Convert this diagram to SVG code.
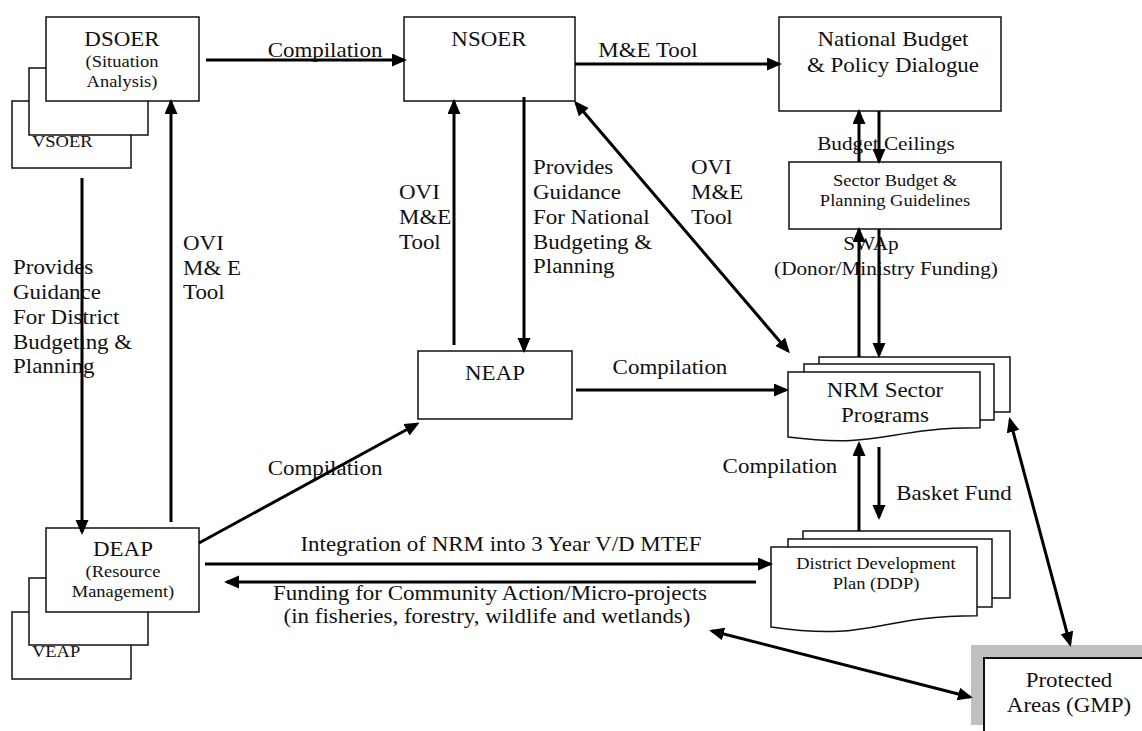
<svg xmlns="http://www.w3.org/2000/svg" width="1142" height="731" viewBox="0 0 1142 731">
  <style>
    .box { fill: #fff; stroke: #111; stroke-width: 1.5; }
    .t { font-family: "Liberation Serif", "Times New Roman", serif; fill: #111; transform-box: fill-box; transform: scaleX(1.12); }
    .c { text-anchor: middle; transform-origin: 50% 50%; }
    .l { text-anchor: start; transform-origin: 0% 50%; }
    .big { font-size: 20.5px; }
    .mid { font-size: 19px; }
    .sm { font-size: 16.5px; }
    .conn line { stroke: #000; stroke-width: 3; fill: none; }
    .one { marker-end: url(#head); }
    .two { marker-start: url(#head); marker-end: url(#head); }
  </style>
  <defs>
    <marker id="head" markerUnits="userSpaceOnUse" markerWidth="16" markerHeight="14" refX="12" refY="6.5" orient="auto-start-reverse">
      <path d="M0,0 L15,6.5 L0,13 Z" fill="#000"/>
    </marker>
    <clipPath id="nrmClip">
      <rect x="788" y="372" width="192" height="51"/>
    </clipPath>
  </defs>
  <rect width="1142" height="731" fill="#fff"/>

  <!-- District / village state of environment reports -->
  <g id="dsoer">
    <rect class="box" x="12" y="101" width="119" height="67"/>
    <text class="t l sm" x="32" y="147">VSOER</text>
    <rect class="box" x="29" y="68" width="119" height="67"/>
    <rect class="box" x="46" y="17" width="153" height="84"/>
    <text class="t c big" x="122" y="46">DSOER</text>
    <text class="t c sm" x="122" y="67">(Situation</text>
    <text class="t c sm" x="122" y="87">Analysis)</text>
  </g>

  <!-- District / village environment action plans -->
  <g id="deap">
    <rect class="box" x="12" y="612" width="119" height="67"/>
    <text class="t l sm" x="32" y="657">VEAP</text>
    <rect class="box" x="29" y="578" width="119" height="67"/>
    <rect class="box" x="46" y="528" width="153" height="84"/>
    <text class="t c big" x="123" y="556">DEAP</text>
    <text class="t c sm" x="123" y="577">(Resource</text>
    <text class="t c sm" x="123" y="597">Management)</text>
  </g>

  <g id="nsoer">
    <rect class="box" x="404" y="17" width="171" height="84"/>
    <text class="t c big" x="489" y="46">NSOER</text>
  </g>

  <g id="budget">
    <rect class="box" x="779" y="17" width="222" height="94"/>
    <text class="t c big" x="893" y="46">National Budget</text>
    <text class="t c big" x="893" y="72">&amp; Policy Dialogue</text>
  </g>

  <g id="guidelines">
    <rect class="box" x="789" y="162" width="212" height="67"/>
    <text class="t c sm" x="895" y="186">Sector Budget &amp;</text>
    <text class="t c sm" x="895" y="206">Planning Guidelines</text>
  </g>

  <g id="neap">
    <rect class="box" x="418" y="351" width="154" height="68"/>
    <text class="t c big" x="495" y="380">NEAP</text>
  </g>

  <!-- stacked document shape -->
  <g id="nrm">
    <rect class="box" x="819" y="357" width="191" height="55"/>
    <rect class="box" x="804" y="364" width="190" height="56"/>
    <path class="box" d="M788,372 H980 V427.8 C884,427.8 884,449 788,437 Z"/>
    <g clip-path="url(#nrmClip)">
      <text class="t c big" x="885" y="397">NRM Sector</text>
      <text class="t c big" x="885" y="422">Programs</text>
    </g>
  </g>

  <g id="ddp">
    <rect class="box" x="803" y="531" width="207" height="67"/>
    <rect class="box" x="788" y="539" width="204" height="68"/>
    <path class="box" d="M771,547 H977 V615.7 C874,615.7 874,641.9 771,627 Z"/>
    <text class="t c sm" x="876" y="569">District Development</text>
    <text class="t c sm" x="876" y="589">Plan (DDP)</text>
  </g>

  <g id="protected">
    <rect x="971" y="645" width="171" height="80" fill="#c0c0c0"/>
    <rect x="984" y="658" width="170" height="90" fill="#fff" stroke="#111" stroke-width="2"/>
    <text class="t c big" x="1069" y="687">Protected</text>
    <text class="t c big" x="1069" y="712">Areas (GMP)</text>
  </g>

  <!-- connector labels -->
  <g id="labels">
    <text class="t c big" x="325" y="57">Compilation</text>
    <text class="t c big" x="648" y="57">M&amp;E Tool</text>
    <text class="t c mid" x="886" y="150">Budget Ceilings</text>
    <text class="t c mid" x="871" y="250">SWAp</text>
    <text class="t c mid" x="886" y="275">(Donor/Ministry Funding)</text>
    <text class="t l big" x="691" y="174">OVI<tspan x="691" y="199">M&amp;E</tspan><tspan x="691" y="224">Tool</tspan></text>
    <text class="t l big" x="533" y="174">Provides<tspan x="533" y="199">Guidance</tspan><tspan x="533" y="224">For National</tspan><tspan x="533" y="249">Budgeting &amp;</tspan><tspan x="533" y="273">Planning</tspan></text>
    <text class="t l big" x="399" y="199">OVI<tspan x="399" y="224">M&amp;E</tspan><tspan x="399" y="249">Tool</tspan></text>
    <text class="t l big" x="183" y="250">OVI<tspan x="183" y="275">M&amp; E</tspan><tspan x="183" y="299">Tool</tspan></text>
    <text class="t l big" x="13" y="274">Provides<tspan x="13" y="299">Guidance</tspan><tspan x="13" y="324">For District</tspan><tspan x="13" y="349">Budgeting &amp;</tspan><tspan x="13" y="373">Planning</tspan></text>
    <text class="t c big" x="670" y="374">Compilation</text>
    <text class="t c big" x="325" y="475">Compilation</text>
    <text class="t c big" x="780" y="473">Compilation</text>
    <text class="t c big" x="954" y="500">Basket Fund</text>
    <text class="t c big" x="501" y="551">Integration of NRM into 3 Year V/D MTEF</text>
    <text class="t c big" x="490" y="600">Funding for Community Action/Micro-projects</text>
    <text class="t c big" x="487" y="623">(in fisheries, forestry, wildlife and wetlands)</text>
  </g>

  <g id="connectors" class="conn">
    <line class="one" x1="206" y1="60" x2="404" y2="60"/>
    <line class="one" x1="575" y1="64" x2="779" y2="64"/>
    <line class="one" x1="859" y1="162" x2="859" y2="112"/>
    <line class="one" x1="879" y1="111" x2="879" y2="161"/>
    <line class="one" x1="859" y1="357" x2="859" y2="230"/>
    <line class="one" x1="879" y1="229" x2="879" y2="355"/>
    <line class="one" x1="859" y1="531" x2="859" y2="444"/>
    <line class="one" x1="879" y1="447" x2="879" y2="517"/>
    <line class="one" x1="576" y1="390" x2="786" y2="390"/>
    <line class="two" x1="576" y1="103" x2="788" y2="351"/>
    <line class="one" x1="524" y1="97" x2="524" y2="350"/>
    <line class="one" x1="454" y1="345" x2="454" y2="102"/>
    <line class="one" x1="199" y1="543" x2="417" y2="424"/>
    <line class="one" x1="82" y1="178" x2="82" y2="532"/>
    <line class="one" x1="171" y1="522" x2="171" y2="102"/>
    <line class="one" x1="205" y1="564" x2="770" y2="564"/>
    <line class="one" x1="756" y1="582" x2="227" y2="582"/>
    <line class="two" x1="1010" y1="420" x2="1070" y2="644"/>
    <line class="two" x1="712" y1="631" x2="970" y2="697"/>
  </g>
</svg>
